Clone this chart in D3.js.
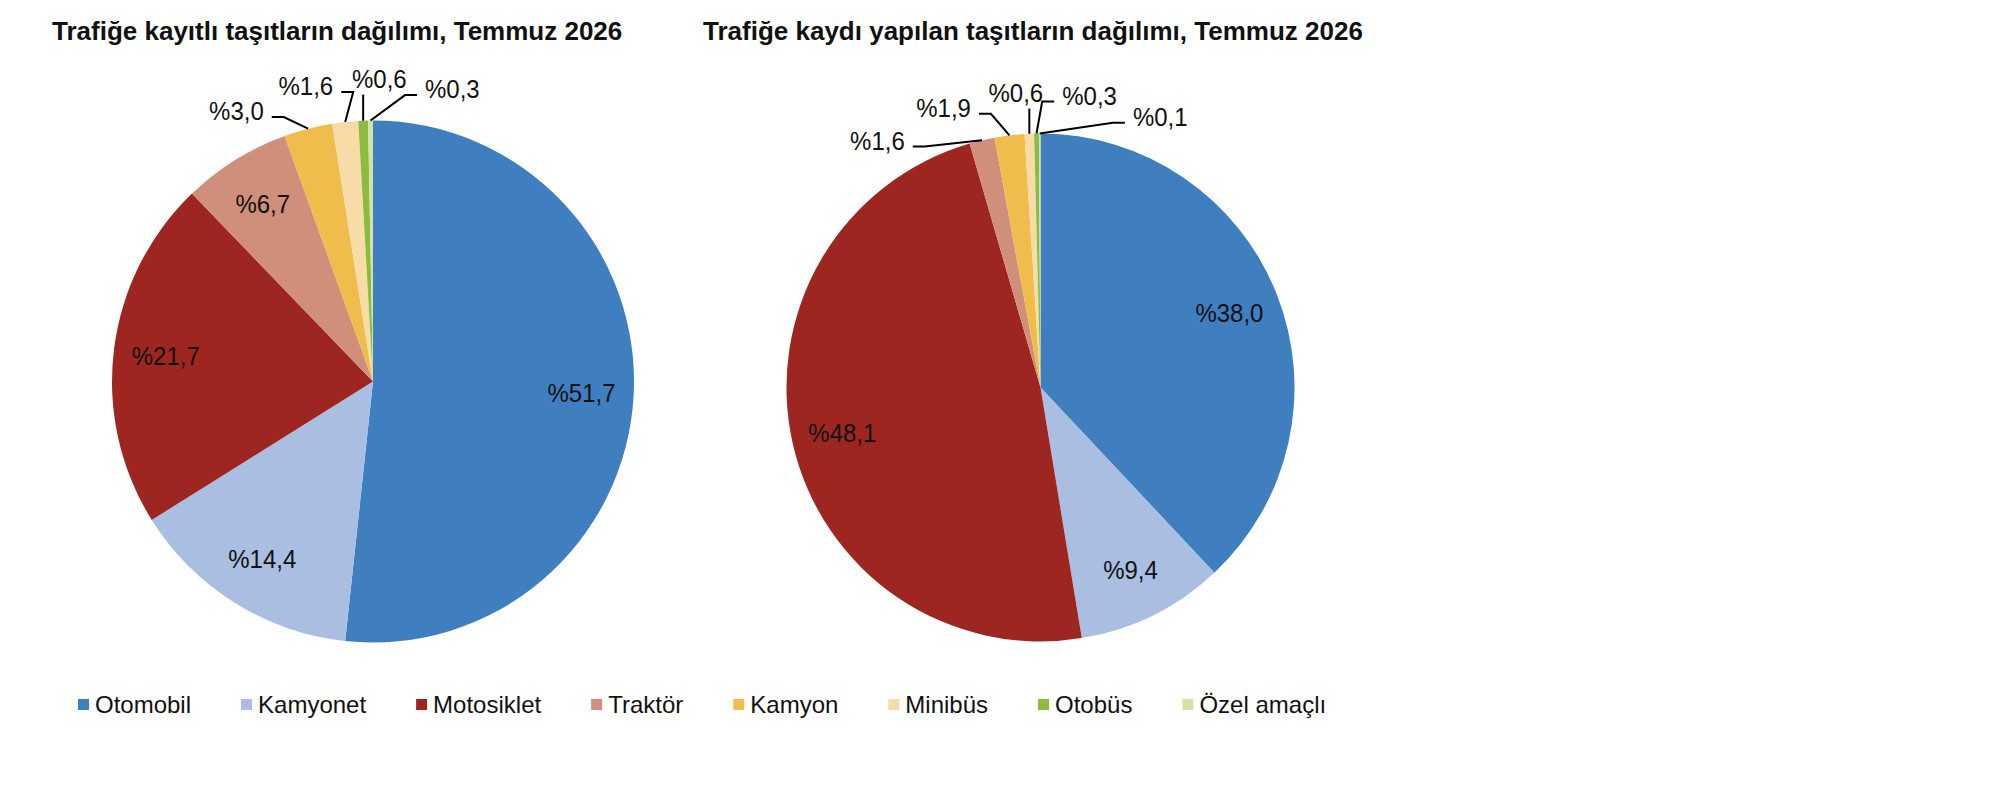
<!DOCTYPE html>
<html>
<head>
<meta charset="utf-8">
<script src="https://cdn.jsdelivr.net/npm/d3@7"></script>
<style>
  body { margin: 0; background: #fff; }
  text { font-family: "Liberation Sans", Arial, sans-serif; fill: #111; }
</style>
</head>
<body>
<script>
// data
var categories = ["Otomobil", "Kamyonet", "Motosiklet", "Traktör", "Kamyon", "Minibüs", "Otobüs", "Özel amaçlı"];
var kayitli = [51.7, 14.4, 21.7, 6.7, 3.0, 1.6, 0.6, 0.3];
var kaydiYapilan = [38.0, 9.4, 48.1, 1.6, 1.9, 0.6, 0.3, 0.1];
var titles = ["Trafiğe kayıtlı taşıtların dağılımı, Temmuz 2026",
              "Trafiğe kaydı yapılan taşıtların dağılımı, Temmuz 2026"];

var color = d3.scaleOrdinal()
    .domain(categories)
    .range(["#3f7ebf", "#a9bee0", "#9e2620", "#cf8f7b", "#f0bd4c", "#f8dca8", "#8cbb3e", "#d2e3a8"]);

var trLocale = d3.formatLocale({decimal: ",", thousands: ".", grouping: [3], currency: ["", " TL"]});
var fmt = trLocale.format(".1f");
var pct = v => "%" + fmt(v);

var width = 2014, height = 792;

var svg = d3.select("body").append("svg")
    .attr("width", width)
    .attr("height", height);

var pies = [
  {values: kayitli, cx: 373, cy: 381.5, r: 261, titleX: 52},
  {values: kaydiYapilan, cx: 1040.5, cy: 387.5, r: 254, titleX: 703}
];

var pie = d3.pie().sort(null).value(d => d.value);
var outsideLimit = 5;
var labelStretch = "scale(1,1.1)";

pies.forEach((p, pi) => {
  var data = categories.map((c, i) => ({name: c, value: p.values[i]}));
  var arcs = pie(data);
  var arc = d3.arc().innerRadius(0).outerRadius(p.r);

  svg.append("text")
      .attr("x", p.titleX)
      .attr("y", 40)
      .style("font-size", "26px")
      .style("font-weight", "bold")
      .text(titles[pi]);

  var g = svg.append("g")
      .attr("transform", "translate(" + p.cx + "," + p.cy + ")");

  g.selectAll("path.slice")
      .data(arcs)
    .enter().append("path")
      .attr("class", "slice")
      .attr("d", arc)
      .attr("fill", d => color(d.data.name));

  // inside labels
  var inner = arcs.filter(d => d.data.value >= outsideLimit);
  var labelArc = d3.arc().innerRadius(p.r * 0.8).outerRadius(p.r * 0.8);
  g.selectAll("text.inner")
      .data(inner)
    .enter().append("text")
      .attr("class", "inner")
      .attr("transform", d => "translate(" + labelArc.centroid(d) + ")" + labelStretch)
      .attr("text-anchor", "middle")
      .attr("dy", "0.35em")
      .style("font-size", "24px")
      .text(d => pct(d.data.value));

  // outside labels, spread so they do not overlap
  var outer = arcs.filter(d => d.data.value < outsideLimit)
      .map(d => ({d: d, mid: (d.startAngle + d.endAngle) / 2}));
  outer.forEach(o => o.a = o.mid);
  var labelR = p.r + 42;
  var step = (55 + 19) / labelR;
  for (var it = 0; it < 300; it++) {
    for (var k = 0; k < outer.length - 1; k++) {
      var diff = outer[k + 1].a - outer[k].a;
      if (diff < step) {
        var push = (step - diff) / 2;
        outer[k].a -= push;
        outer[k + 1].a += push;
      }
    }
  }

  var lab = g.selectAll("g.outer")
      .data(outer)
    .enter().append("g")
      .attr("class", "outer");

  lab.append("text")
      .attr("transform", o => "translate(" + (labelR * Math.sin(o.a)) + "," + (-labelR * Math.cos(o.a)) + ")" + labelStretch)
      .attr("text-anchor", "middle")
      .attr("dy", "0.35em")
      .style("font-size", "24px")
      .text(o => pct(o.d.data.value));

  lab.each(function(o) {
    var t = d3.select(this).select("text");
    var w = t.node().getComputedTextLength();
    var x = labelR * Math.sin(o.a), y = -labelR * Math.cos(o.a);
    var ex = p.r * Math.sin(o.mid), ey = -p.r * Math.cos(o.mid);
    var left = x - w / 2, right = x + w / 2, ly = y + 6;
    var path = d3.path();
    if (ex > left + 3 && ex < right - 3) {
      path.moveTo(ex, y + 16);
      path.lineTo(ex, ey);
    } else if (ex >= right) {
      path.moveTo(right + 8, ly);
      path.lineTo(right + 20, ly);
      path.lineTo(ex, ey);
    } else {
      path.moveTo(left - 8, ly);
      path.lineTo(left - 20, ly);
      path.lineTo(ex, ey);
    }
    d3.select(this).append("path")
        .attr("d", path.toString())
        .attr("fill", "none")
        .attr("stroke", "#000")
        .attr("stroke-width", 2);
  });
});

// legend
var legend = svg.append("g")
    .attr("transform", "translate(78,705)");

var lx = 0;
categories.forEach(c => {
  var item = legend.append("g").attr("transform", "translate(" + lx + ",0)");
  item.append("rect")
      .attr("x", 0).attr("y", -6)
      .attr("width", 11).attr("height", 11)
      .attr("fill", color(c));
  var t = item.append("text")
      .attr("x", 17)
      .attr("dy", "0.35em")
      .style("font-size", "24px")
      .text(c);
  lx += 17 + t.node().getComputedTextLength() + 50;
});
</script>
</body>
</html>
